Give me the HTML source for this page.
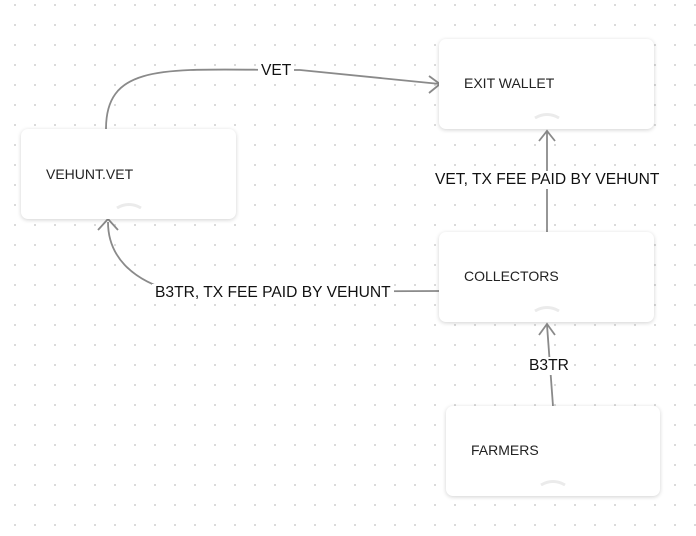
<!DOCTYPE html>
<html><head><style>
body{margin:0;width:696px;height:536px;overflow:hidden;background:#fff;
background-image:radial-gradient(circle,#d4d4d4 0.9px,transparent 1.2px);background-size:20px 20px;background-position:5px -5px;font-family:"Liberation Sans",sans-serif;}
.n{position:absolute;background:#fff;border-radius:7px;box-shadow:0 1px 4px rgba(0,0,0,0.18);font-size:14px;color:#222;}
.n span{position:absolute;left:25px;top:36px;}
.c{position:absolute;width:26px;height:8px;left:50%;margin-left:-13px;bottom:10px}
.l{position:absolute;font-size:15.6px;color:#111;background:#fff;padding:0 3px;white-space:nowrap}
</style></head><body>
<svg width="696" height="536" style="position:absolute;left:0;top:0" fill="none" stroke="#8a8a8a" stroke-width="1.8">
<path d="M106 129 C106 60 170 70 300 70 L440 84"/>
<path d="M429 76 L440 84 L429 93"/>
<path d="M547 232 L547 132"/>
<path d="M539 141 L547 131 L555 141"/>
<path d="M439 291 L175 292 C130 280 108 255 108 222"/>
<path d="M98 230 L108 219 L118 230"/>
<path d="M553 406 L547 325"/>
<path d="M539 335 L547 324 L555 335"/>
</svg>
<div class="n" style="left:21px;top:129px;width:215px;height:90px"><span style="top:37px">VEHUNT.VET</span><svg class="c"><path d="M1 7 Q13 0 25 7" stroke="#ebebeb" stroke-width="3" fill="none"/></svg></div>
<div class="n" style="left:439px;top:39px;width:215px;height:90px"><span>EXIT WALLET</span><svg class="c"><path d="M1 7 Q13 0 25 7" stroke="#ebebeb" stroke-width="3" fill="none"/></svg></div>
<div class="n" style="left:439px;top:232px;width:215px;height:90px"><span>COLLECTORS</span><svg class="c"><path d="M1 7 Q13 0 25 7" stroke="#ebebeb" stroke-width="3" fill="none"/></svg></div>
<div class="n" style="left:446px;top:406px;width:214px;height:90px"><span>FARMERS</span><svg class="c"><path d="M1 7 Q13 0 25 7" stroke="#ebebeb" stroke-width="3" fill="none"/></svg></div>
<div class="l" style="left:258px;top:62px">VET</div>
<div class="l" style="left:432px;top:171px">VET, TX FEE PAID BY VEHUNT</div>
<div class="l" style="left:152px;top:284px">B3TR, TX FEE PAID BY VEHUNT</div>
<div class="l" style="left:526px;top:357px">B3TR</div>
</body></html>
